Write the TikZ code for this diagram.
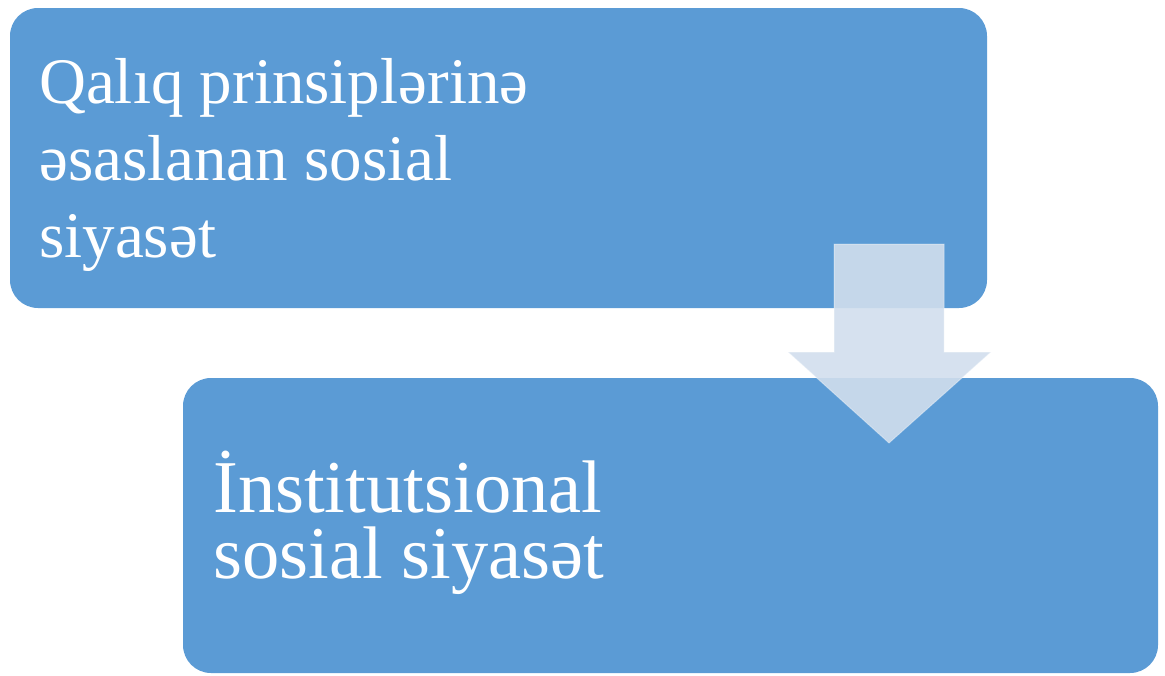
\documentclass[tikz,border=0pt]{standalone}
\usepackage{fontspec}
\setmainfont{Liberation Serif}
\definecolor{boxBlue}{HTML}{5B9BD5}
\definecolor{arrowBlue}{HTML}{D1DEED}

\begin{document}
\begin{tikzpicture}[x=1pt,y=-1pt]
        \useasboundingbox (0,0) rectangle (1165,675);
        % upper box
        \fill[boxBlue, rounded corners=28pt] (10,8) rectangle (987,308);
        \node[anchor=base west, inner sep=0pt, text=white, font=\fontsize{65}{77}\selectfont] (upA) at (39,103) {Qalıq prinsiplərinə};
        \node[anchor=base west, inner sep=0pt, text=white, font=\fontsize{65}{77}\selectfont] (upB) at (39,180) {əsaslanan sosial};
        \node[anchor=base west, inner sep=0pt, text=white, font=\fontsize{65}{77}\selectfont] (upC) at (39,257) {siyasət};

        % lower box
        \fill[boxBlue, rounded corners=28pt] (183,378) rectangle (1158,673);
        \node[anchor=base west, inner sep=0pt, text depth=0pt, text=white, font=\fontsize{74.5}{66}\selectfont] (lowA) at (213,512) {İnstitutsional};
        \node[anchor=base west, inner sep=0pt, text=white, font=\fontsize{74.5}{66}\selectfont] (lowB) at (213,578) {sosial siyasət};

        % arrow
        \fill[arrowBlue, fill opacity=0.9] (834,244) -- (944,244) -- (944,352) -- (991,352)
            -- (889,443) -- (788,352) -- (834,352) -- cycle;
        \draw[white, opacity=0.35, line width=1pt] (834,244) -- (944,244) -- (944,352) -- (991,352)
            -- (889,443) -- (788,352) -- (834,352) -- cycle;
    \end{tikzpicture}
\end{document}
